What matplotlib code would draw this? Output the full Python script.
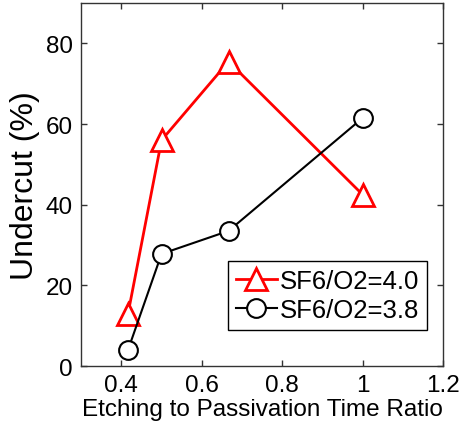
import matplotlib
matplotlib.use("Agg")
import matplotlib.pyplot as plt

plt.rcParams['font.family'] = ['Liberation Sans', 'DejaVu Sans']

# data
ratio = [5/12, 0.5, 2/3, 1.0]
undercut_40 = [13, 56, 75.5, 42.5]
undercut_38 = [4, 27.8, 33.5, 61.5]
xticks = [0.4, 0.6, 0.8, 1.0, 1.2]
xticklabels = ['0.4', '0.6', '0.8', '1', '1.2']
yticks = [0, 20, 40, 60, 80]

fig = plt.figure(figsize=(4.61, 4.27), dpi=100)
ax = fig.add_axes([0.176, 0.1405, 0.785, 0.85])

ax.plot(ratio, undercut_40, color='red', lw=2, marker='^', ms=16,
        mfc='white', mec='red', mew=2, label='SF6/O2=4.0')
ax.plot(ratio, undercut_38, color='black', lw=1.5, marker='o', ms=13.5,
        mfc='white', mec='black', mew=1.5, label='SF6/O2=3.8')

ax.set_xlim(0.3, 1.2)
ax.set_ylim(0, 90)
ax.set_xticks(xticks)
ax.set_xticklabels(xticklabels)
ax.set_yticks(yticks)
ax.tick_params(direction='in', top=True, right=True, labelsize=17.5,
               length=4, width=1, colors='#333333', labelcolor='black', pad=6)
for s in ax.spines.values():
    s.set_color('#333333')
    s.set_linewidth(1)

ax.set_xlabel('Etching to Passivation Time Ratio', fontsize=17.5, labelpad=1)
ax.set_ylabel('Undercut (%)', fontsize=23, labelpad=4)

leg = ax.legend(loc='lower right', fontsize=18.5, handlelength=1.6,
                handletextpad=0.1, borderpad=0.3, labelspacing=0.2,
                fancybox=False, framealpha=1, edgecolor='black',
                bbox_to_anchor=(0.99, 0.065))
leg.get_frame().set_linewidth(1)

fig.savefig('out.png', dpi=100)
